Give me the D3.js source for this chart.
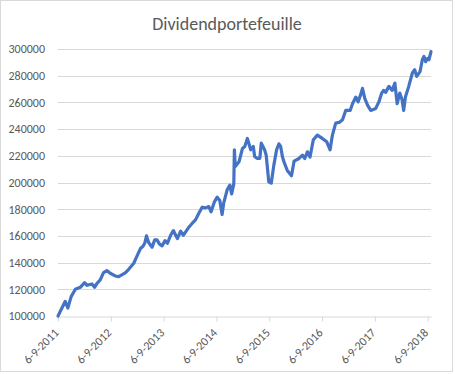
<!DOCTYPE html>
<html>
<head>
<meta charset="utf-8">
<script src="https://cdn.jsdelivr.net/npm/d3@7"></script>
<style>
  body { margin: 0; background: #fff; }
  text { font-family: Calibri, Carlito, "Liberation Sans", Arial, sans-serif; fill: #595959; }
</style>
</head>
<body>
<script>
// Chart data
var title = "Dividendportefeuille";

var dates = [
  "2011-09-06","2011-09-29","2011-10-26","2011-11-13","2011-12-06","2012-01-04","2012-02-07","2012-03-08",
  "2012-03-25","2012-04-28","2012-05-16","2012-06-02","2012-06-24","2012-07-17","2012-08-09","2012-09-01",
  "2012-10-06","2012-10-30","2012-11-23","2012-12-16","2013-01-07","2013-02-11","2013-03-06","2013-03-29",
  "2013-04-14","2013-04-28","2013-05-10","2013-05-25","2013-06-18","2013-07-06","2013-07-22","2013-08-07",
  "2013-08-26","2013-09-15","2013-10-02","2013-10-24","2013-11-12","2013-11-28","2013-12-10","2014-01-01",
  "2014-01-20","2014-02-05","2014-02-27","2014-03-23","2014-04-14","2014-05-07","2014-05-30","2014-06-22",
  "2014-07-15","2014-07-31","2014-08-23","2014-09-11","2014-09-29","2014-10-15","2014-10-26","2014-11-19",
  "2014-12-08","2014-12-20","2015-01-04","2015-01-08","2015-01-14","2015-02-09","2015-03-05","2015-03-21",
  "2015-04-08","2015-05-01","2015-05-19","2015-05-28","2015-06-16","2015-07-03","2015-07-13","2015-08-05",
  "2015-08-16","2015-09-03","2015-09-20","2015-10-08","2015-10-27","2015-11-12","2015-11-24","2015-12-06",
  "2015-12-17","2016-01-09","2016-02-07","2016-02-25","2016-03-30","2016-04-23","2016-05-09","2016-05-27",
  "2016-06-14","2016-07-07","2016-08-04","2016-09-07","2016-10-08","2016-10-31","2016-11-16","2016-12-09",
  "2017-01-02","2017-01-25","2017-02-16","2017-03-19","2017-04-04","2017-04-27","2017-05-13","2017-05-31",
  "2017-06-12","2017-06-28","2017-07-17","2017-08-08","2017-09-12","2017-10-04","2017-10-23","2017-11-05",
  "2017-11-19","2017-12-12","2018-01-04","2018-01-22","2018-02-07","2018-02-25","2018-03-13","2018-03-24",
  "2018-04-05","2018-04-28","2018-05-23","2018-06-08","2018-06-22","2018-07-15","2018-07-31","2018-08-11",
  "2018-08-23","2018-09-06","2018-09-15","2018-09-29"
];

var values = [
  100000,105000,111000,106000,114500,120000,121500,125000,
  123000,124000,121500,124500,127000,132500,134000,132000,
  130000,129500,131000,132500,135000,139500,145000,150500,
  152000,154500,160000,155000,151500,157000,157000,154000,
  152500,156500,154500,160500,164000,160500,158000,163500,
  160500,163000,166500,169500,172000,177000,181500,181000,
  182000,178000,185500,189000,186500,176000,184500,194500,
  198000,191500,199000,224500,212000,215500,225500,227000,
  233000,224500,227000,219500,218000,218000,229500,224500,
  220500,200500,199500,213000,224500,229000,227000,219500,
  215500,209000,205000,216000,218000,220500,218000,223000,
  219000,232000,235500,233000,230500,224500,235500,244500,
  245000,247000,254000,254000,259000,264000,260500,266000,
  270500,263000,258000,254000,255500,260500,267000,269000,
  267500,272000,269000,274500,259000,267000,262000,254000,
  264000,272000,282000,284500,279500,283000,292000,294500,
  290500,293000,292000,298000
];

var yTicks = [100000, 120000, 140000, 160000, 180000, 200000, 220000, 240000, 260000, 280000, 300000];
var xTickDates = ["2011-09-06","2012-09-06","2013-09-06","2014-09-06","2015-09-06","2016-09-06","2017-09-06","2018-09-06"];

var W = 455, H = 374;
var margin = { top: 49, right: 24, bottom: 58, left: 58 };

var parse = d3.timeParse("%Y-%m-%d");
var fmt = d3.timeFormat("%-d-%-m-%Y");
var data = dates.map(function(d, i) { return { date: parse(d), value: values[i] }; });

var svg = d3.select("body").append("svg")
  .attr("width", W)
  .attr("height", H);

// chart border
svg.append("rect")
  .attr("x", 0.5).attr("y", 0.5)
  .attr("width", 452).attr("height", 371)
  .attr("fill", "#fff")
  .attr("stroke", "#d9d9d9");

var x = d3.scaleTime()
  .domain(d3.extent(data, function(d) { return d.date; }))
  .range([margin.left, W - margin.right]);

var y = d3.scaleLinear()
  .domain([100000, 300000])
  .range([H - margin.bottom, margin.top]);

// gridlines
svg.append("g")
  .selectAll("line")
  .data(yTicks.slice(1))
  .enter().append("line")
  .attr("x1", margin.left).attr("x2", W - margin.right)
  .attr("y1", function(d) { return Math.round(y(d)) + 0.5; })
  .attr("y2", function(d) { return Math.round(y(d)) + 0.5; })
  .attr("stroke", "#d9d9d9")
  .attr("stroke-width", 1);

// y axis labels
var yAxis = d3.axisLeft(y).tickValues(yTicks).tickFormat(d3.format("d")).tickSize(0).tickPadding(13);
var gy = svg.append("g")
  .attr("transform", "translate(" + margin.left + ",0)")
  .call(yAxis);
gy.select(".domain").remove();
gy.selectAll("text").style("font-size", "12px").attr("fill", "#595959");

// x axis
var xAxis = d3.axisBottom(x)
  .tickValues(xTickDates.map(parse))
  .tickFormat(fmt)
  .tickSizeInner(5)
  .tickSizeOuter(0);
var gx = svg.append("g")
  .attr("transform", "translate(0," + (Math.round(y(100000)) + 0.5) + ")")
  .call(xAxis);
gx.select(".domain").attr("stroke", "#d9d9d9");
gx.selectAll(".tick line").attr("stroke", "#d9d9d9");
gx.selectAll("text")
  .style("font-size", "12px")
  .attr("fill", "#595959")
  .attr("text-anchor", "end")
  .attr("x", 0).attr("y", 0)
  .attr("dx", 0).attr("dy", 0)
  .attr("transform", "translate(1,17) rotate(-45)");

// line
var line = d3.line()
  .x(function(d) { return x(d.date); })
  .y(function(d) { return y(d.value); });

svg.append("path")
  .datum(data)
  .attr("d", line)
  .attr("fill", "none")
  .attr("stroke", "#4472c4")
  .attr("stroke-width", 3.2)
  .attr("stroke-linejoin", "round")
  .attr("stroke-linecap", "round");

// title
svg.append("text")
  .attr("x", 227)
  .attr("y", 29.5)
  .attr("text-anchor", "middle")
  .style("font-size", "18px")
  .text(title);
</script>
</body>
</html>
